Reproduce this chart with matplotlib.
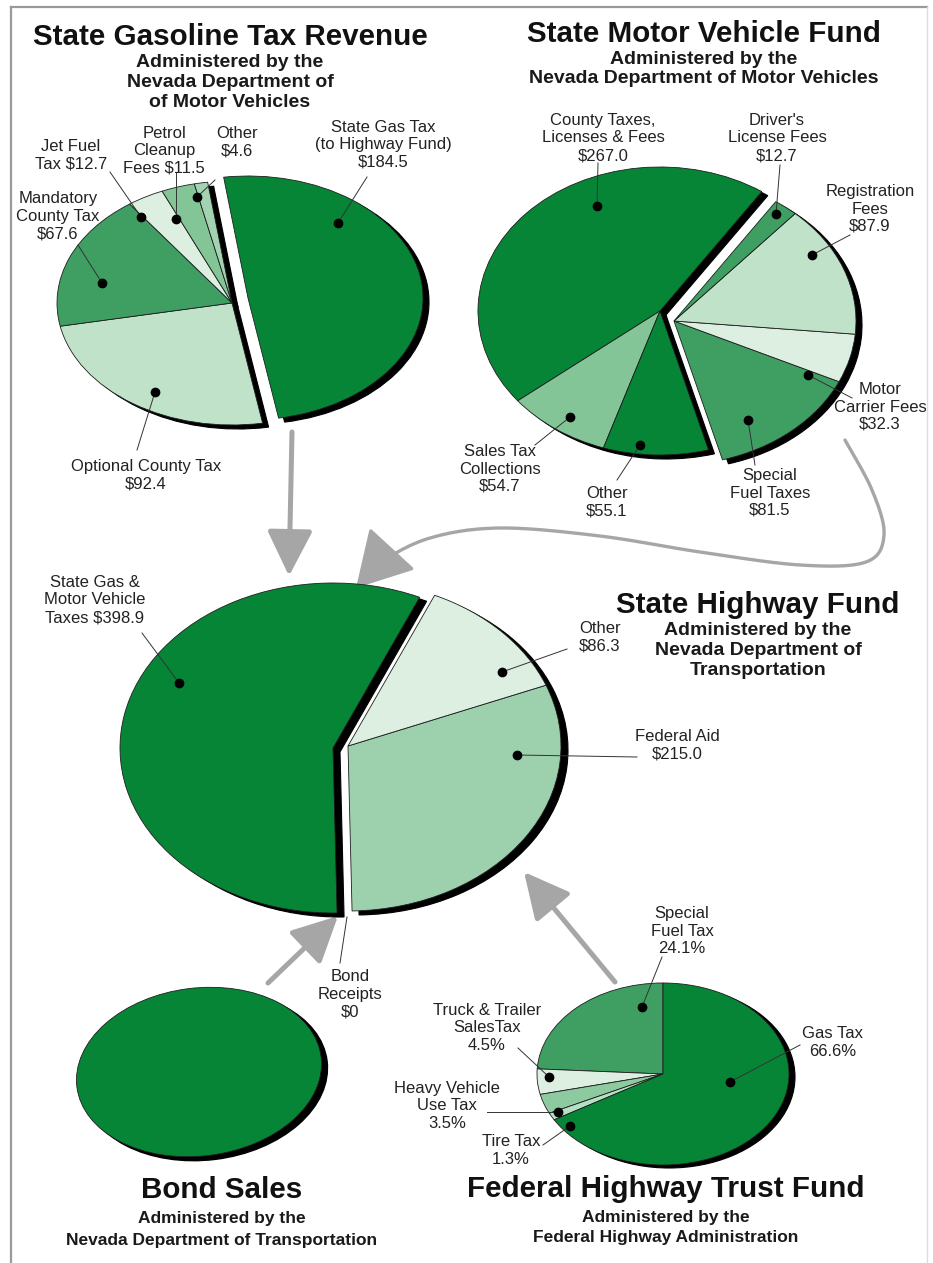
import numpy as np
import matplotlib
matplotlib.use("Agg")
import matplotlib.pyplot as plt
from matplotlib.patches import Wedge, Ellipse, FancyArrowPatch, ArrowStyle
from matplotlib.transforms import Affine2D
from matplotlib.path import Path

plt.rcParams['font.family'] = ['Liberation Sans', 'DejaVu Sans']

# ---------------- data ----------------
gas_cats = ["State Gas Tax (to Highway Fund)", "Optional County Tax", "Mandatory County Tax",
            "Jet Fuel Tax", "Petrol Cleanup Fees", "Other"]
gas_vals = [184.5, 92.4, 67.6, 12.7, 11.5, 4.6]
gas_fmt = ["State Gas Tax\n(to Highway Fund)\n${:.1f}", "Optional County Tax\n${:.1f}",
           "Mandatory\nCounty Tax\n${:.1f}", "Jet Fuel\nTax ${:.1f}", "Petrol\nCleanup\nFees ${:.1f}",
           "Other\n${:.1f}"]

mvf_cats = ["County Taxes, Licenses & Fees", "Sales Tax Collections", "Other", "Special Fuel Taxes",
            "Motor Carrier Fees", "Registration Fees", "Driver's License Fees"]
mvf_vals = [267.0, 54.7, 55.1, 81.5, 32.3, 87.9, 12.7]
mvf_fmt = ["County Taxes,\nLicenses & Fees\n${:.1f}", "Sales Tax\nCollections\n${:.1f}", "Other\n${:.1f}",
           "Special\nFuel Taxes\n${:.1f}", "Motor\nCarrier Fees\n${:.1f}", "Registration\nFees\n${:.1f}",
           "Driver's\nLicense Fees\n${:.1f}"]

shf_cats = ["State Gas & Motor Vehicle Taxes", "Bond Receipts", "Federal Aid", "Other"]
shf_vals = [398.9, 0.0, 215.0, 86.3]
shf_fmt = ["State Gas &\nMotor Vehicle\nTaxes ${:.1f}", "Bond\nReceipts\n${:.0f}", "Federal Aid\n${:.1f}",
           "Other\n${:.1f}"]

fhtf_cats = ["Special Fuel Tax", "Truck & Trailer Sales Tax", "Heavy Vehicle Use Tax", "Tire Tax", "Gas Tax"]
fhtf_pct = [24.1, 4.5, 3.5, 1.3, 66.6]
fhtf_fmt = ["Special\nFuel Tax\n{:.1f}%", "Truck & Trailer\nSalesTax\n{:.1f}%", "Heavy Vehicle\nUse Tax\n{:.1f}%",
            "Tire Tax\n{:.1f}%", "Gas Tax\n{:.1f}%"]

# ---------------- style ----------------
DARK = '#078537'
MED = '#3f9f63'
MEDL = '#84c598'
MEDL2 = '#a3d3b1'
LIGHT = '#bfe2c8'
VLIGHT = '#dcefe1'
FED = '#9dd0ac'
GRAY = '#a6a6a6'
TXT = '#222222'
LAB = 12

fig = plt.figure(figsize=(9.33, 12.63), dpi=100)
ax = fig.add_axes([0, 0, 1, 1])
ax.set_xlim(0, 933)
ax.set_ylim(1263, 0)
ax.axis('off')

# frame
ax.plot([11, 11], [1263, 7], color='#9a9a9a', lw=1.6, zorder=0)
ax.plot([11, 927], [7, 7], color='#9a9a9a', lw=1.6, zorder=0)
ax.plot([927, 927], [7, 1263], color='#dddddd', lw=1.0, zorder=0)


def wedge_angles(vals, start, ccw=True):
    vals = np.asarray(vals, float)
    deg = vals / vals.sum() * 360.0
    cum = np.concatenate([[0.0], np.cumsum(deg)])
    out = []
    for i in range(len(vals)):
        if ccw:
            out.append((start + cum[i], start + cum[i + 1]))
        else:
            out.append((start - cum[i + 1], start - cum[i]))
    return out


def draw_pie(cx, cy, a, b, vals, colors, start, ccw=True, offsets=None, shadow=(6, 4)):
    angs = wedge_angles(vals, start, ccw)
    if offsets is None:
        offsets = [(0, 0)] * len(vals)
    for (t1, t2), (dx, dy), v in zip(angs, offsets, vals):
        if v <= 0:
            continue
        tr = Affine2D().scale(a, -b).translate(cx + dx + shadow[0], cy + dy + shadow[1]) + ax.transData
        ax.add_patch(Wedge((0, 0), 1, t1, t2, transform=tr, facecolor='black',
                           edgecolor='black', lw=0.8, zorder=2))
    for (t1, t2), (dx, dy), v, c in zip(angs, offsets, vals, colors):
        if v <= 0:
            continue
        tr = Affine2D().scale(a, -b).translate(cx + dx, cy + dy) + ax.transData
        ax.add_patch(Wedge((0, 0), 1, t1, t2, transform=tr, facecolor=c,
                           edgecolor='#1e1e1e', lw=0.6, zorder=3))


def text_lines(x, y0, txt, dy=17.5, size=LAB, weight='normal', color=TXT):
    for i, ln in enumerate(txt.split('\n')):
        ax.text(x, y0 + i * dy, ln, ha='center', va='baseline', fontsize=size,
                fontweight=weight, color=color, zorder=8)


def leader(p_from, p_dot):
    ax.plot([p_from[0], p_dot[0]], [p_from[1], p_dot[1]], color='#333333', lw=0.7, zorder=6)
    ax.plot([p_dot[0]], [p_dot[1]], 'o', ms=6, color='black', zorder=7)


def title_block(x, y_title, title, subs, sub_dy=20, sub_size=14, first_gap=22):
    ax.text(x, y_title, title, ha='center', va='baseline', fontsize=21.3, fontweight='bold',
            color='#111111', zorder=8)
    for i, s in enumerate(subs):
        ax.text(x, y_title + first_gap + i * sub_dy, s, ha='center', va='baseline', fontsize=sub_size,
                fontweight='bold', color='#1a1a1a', zorder=8)


def arrow(p0, p1, lw=3.6, ms=20):
    ax.add_patch(FancyArrowPatch(p0, p1, arrowstyle=ArrowStyle('-|>', head_length=1.4, head_width=0.7),
                                 mutation_scale=ms, lw=lw, color=GRAY, shrinkA=0, shrinkB=0, zorder=1))


def smooth(pts, n=24):
    pts = np.asarray(pts, float)
    P = np.vstack([pts[0], pts, pts[-1]])
    out = []
    for i in range(1, len(P) - 2):
        p0, p1, p2, p3 = P[i - 1], P[i], P[i + 1], P[i + 2]
        for t in np.linspace(0, 1, n, endpoint=False):
            t2, t3 = t * t, t * t * t
            out.append(0.5 * (2 * p1 + (-p0 + p2) * t + (2 * p0 - 5 * p1 + 4 * p2 - p3) * t2
                              + (-p0 + 3 * p1 - 3 * p2 + p3) * t3))
    out.append(pts[-1])
    return np.array(out)


# ---------------- Pie 1: State Gasoline Tax Revenue ----------------
title_block(230, 45, "State Gasoline Tax Revenue",
            ["Administered by the", "Nevada Department of", "of Motor Vehicles"])
gas_colors = [DARK, LIGHT, MED, VLIGHT, MEDL, MEDL2]
gas_off = [(16, -5), (0, 0), (0, 0), (0, 0), (0, 0), (0, 0)]
draw_pie(232, 303, 175, 122, gas_vals, gas_colors, 98, ccw=False, offsets=gas_off, shadow=(6, 4))

gas_lab = [((383, 132), (367, 177), (338, 223)),
           ((146, 471), (137, 450), (155, 392)),
           ((58, 203), (78, 245), (102, 283)),
           ((71, 151), (110, 172), (141, 217)),
           ((164, 138), (176, 172), (176, 219)),
           ((237, 138), (215, 180), (197, 197))]
for fmt, v, (tp, lp, dp) in zip(gas_fmt, gas_vals, gas_lab):
    text_lines(tp[0], tp[1], fmt.format(v))
    leader(lp, dp)

# ---------------- Pie 2: State Motor Vehicle Fund ----------------
title_block(704, 42, "State Motor Vehicle Fund",
            ["Administered by the", "Nevada Department of Motor Vehicles"], sub_dy=19)
mvf_colors = [DARK, MEDL, DARK, MED, VLIGHT, LIGHT, MED]
mvf_off = [(0, 0), (0, 0), (0, 0), (14, 10), (14, 10), (14, 10), (14, 10)]
draw_pie(660, 311, 182, 144, mvf_vals, mvf_colors, 56, ccw=True, offsets=mvf_off, shadow=(6, 4))

mvf_lab = [((603, 125), (598, 163), (597, 206)),
           ((500, 456), (535, 445), (570, 417)),
           ((607, 498), (617, 480), (640, 445)),
           ((770, 480), (755, 465), (748, 420)),
           ((880, 394), (852, 398), (808, 375)),
           ((870, 196), (850, 235), (812, 255)),
           ((777, 125), (780, 165), (776, 214))]
for fmt, v, (tp, lp, dp) in zip(mvf_fmt, mvf_vals, mvf_lab):
    text_lines(tp[0], tp[1], fmt.format(v))
    leader(lp, dp)

# ---------------- Pie 3: State Highway Fund ----------------
title_block(758, 613, "State Highway Fund",
            ["Administered by the", "Nevada Department of", "Transportation"], sub_dy=20)
shf_colors = [DARK, 'none', FED, VLIGHT]
shf_off = [(0, 0), (15, -2), (15, -2), (15, -2)]
draw_pie(333, 748, 213, 165, shf_vals, shf_colors, 66, ccw=True, offsets=shf_off, shadow=(7, 4))

shf_lab = [((95, 587), (142, 633), (179, 683)),
           ((350, 981), (340, 963), None),
           ((677, 741), (637, 757), (517, 755)),
           ((600, 633), (567, 649), (502, 672))]
for fmt, v, (tp, lp, dp) in zip(shf_fmt, shf_vals, shf_lab):
    text_lines(tp[0], tp[1], fmt.format(v))
    if dp is None:
        ax.plot([lp[0], 347], [lp[1], 917], color='#333333', lw=0.7, zorder=6)
    else:
        leader(lp, dp)

# ---------------- Bond Sales ----------------
ax.add_patch(Ellipse((205, 1076), 246, 168, angle=-7, facecolor='black', edgecolor='black', zorder=2))
ax.add_patch(Ellipse((199, 1072), 246, 168, angle=-7, facecolor=DARK, edgecolor='#1e1e1e', lw=0.6, zorder=3))
title_block(222, 1198, "Bond Sales",
            ["Administered by the", "Nevada Department of Transportation"], sub_dy=22, sub_size=12.5,
            first_gap=25)

# ---------------- Pie 5: Federal Highway Trust Fund ----------------
fhtf_colors = [MED, VLIGHT, '#8ecaa0', '#b7dfc3', DARK]
draw_pie(663, 1074, 126, 91, fhtf_pct, fhtf_colors, 90, ccw=True, shadow=(6, 3))
title_block(666, 1197, "Federal Highway Trust Fund",
            ["Administered by the", "Federal Highway Administration"], sub_dy=20, sub_size=12.5,
            first_gap=25)

fhtf_lab = [((682, 918), (662, 957), (642, 1007)),
            ((487, 1015), (518, 1048), (549, 1077)),
            ((447, 1093), (487, 1112), (558, 1112)),
            ((511, 1146), (543, 1145), (570, 1126)),
            ((833, 1038), (800, 1045), (730, 1082))]
for fmt, v, (tp, lp, dp) in zip(fhtf_fmt, fhtf_pct, fhtf_lab):
    text_lines(tp[0], tp[1], fmt.format(v))
    leader(lp, dp)

# ---------------- Arrows ----------------
arrow((292, 432), (289, 576))
arrow((268, 983), (338, 916))
arrow((615, 982), (524, 872))
curve = smooth([(845, 440), (872, 490), (884, 535), (866, 562), (800, 565),
                (700, 552), (600, 536), (500, 528), (430, 538), (380, 563), (356, 588)])
ax.add_patch(FancyArrowPatch(path=Path(curve), arrowstyle=ArrowStyle('-|>', head_length=1.4, head_width=0.8),
                             mutation_scale=25, lw=2.4, color=GRAY, zorder=1))

fig.savefig("out.png", dpi=100)
